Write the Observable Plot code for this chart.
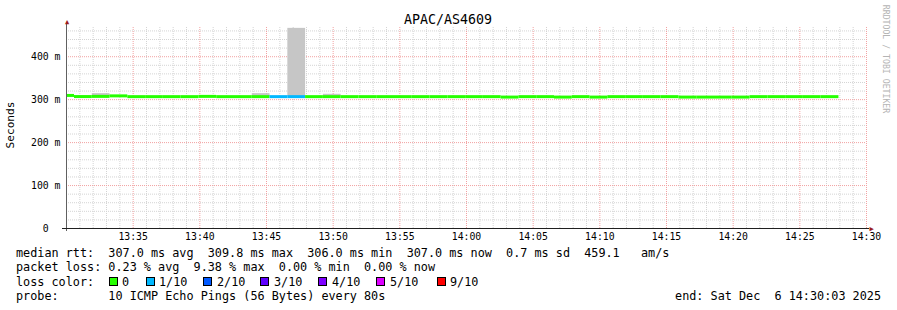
<!DOCTYPE html>
<html>
<head>
<meta charset="utf-8">
<script src="https://cdn.jsdelivr.net/npm/d3@7"></script>
<script src="https://cdn.jsdelivr.net/npm/@observablehq/plot@0.6"></script>
<style>
  html, body { margin: 0; padding: 0; background: #fff; }
  #wrap { position: relative; width: 897px; height: 310px; overflow: hidden; background: #fff;
          font-family: "DejaVu Sans Mono", monospace; color: #000; }
  #wrap svg { position: absolute; left: 0; top: 0; }
  .t { position: absolute; white-space: pre; line-height: 1; }
  .leg { font-size: 11.8px; }
  .box { position: absolute; width: 9px; height: 9px; box-sizing: border-box; border: 1px solid #000; }
</style>
</head>
<body>
<div id="wrap"></div>
<script>
// ---------------- data ----------------
const day = "2025-12-06";
const titleText = "APAC/AS4609";
const yAxisLabel = "Seconds";
const creditText = "RRDTOOL / TOBI OETIKER";

// sample boundaries (80 s step); segment i spans sampleTimes[i] .. sampleTimes[i+1]
const sampleTimes = [
  "13:29:16","13:30:36","13:31:56","13:33:16","13:34:36","13:35:56","13:37:16","13:38:36","13:39:56","13:41:16",
  "13:42:36","13:43:56","13:45:16","13:46:36","13:47:56","13:49:16","13:50:36","13:51:56","13:53:16","13:54:36",
  "13:55:56","13:57:16","13:58:36","13:59:56","14:01:16","14:02:36","14:03:56","14:05:16","14:06:36","14:07:56",
  "14:09:16","14:10:36","14:11:56","14:13:16","14:14:36","14:15:56","14:17:16","14:18:36","14:19:56","14:21:16",
  "14:22:36","14:23:56","14:25:16","14:26:36","14:27:56"
];
// median rtt per sample (ms)
const medianMs = [
  309.8, 307.2, 307.6, 308.8, 307.0, 307.0, 307.0, 307.0, 307.6, 307.0,
  307.0, 307.0, 307.0, 307.0, 307.0, 307.0, 307.0, 307.0, 307.0, 307.0,
  307.0, 307.0, 307.0, 307.0, 307.0, 306.0, 307.0, 307.0, 306.0, 307.0,
  306.0, 307.0, 307.0, 307.0, 307.0, 306.0, 306.0, 306.0, 306.0, 307.0,
  307.0, 307.0, 307.0, 307.0
];
// highest ping of each sample where the smoke is visible (ms)
const smokeMaxMs = [
  311.5, null, 314.0, null, null, null, null, null, null, null,
  null, 314.0, null, 466.0, null, 312.5, null, null, null, null,
  null, null, null, null, null, null, null, null, null, null,
  null, null, null, null, null, null, null, null, null, null,
  null, null, null, null
];
// lost pings out of 10 per sample
const lossCount = [
  0,0,0,0,0,0,0,0,0,0,
  0,0,1,1,0,0,0,0,0,0,
  0,0,0,0,0,0,0,0,0,0,
  0,0,0,0,0,0,0,0,0,0,
  0,0,0,0
];
const lossLegendLabels = ["0","1/10","2/10","3/10","4/10","5/10","9/10"];
const lossLegendColors = ["#26ff00","#00b8ff","#0059ff","#5e00ff","#7e00ff","#dd00ff","#ff0000"];
const lossLegendCounts = [0,1,2,3,4,5,9];

const xTickLabels = ["13:35","13:40","13:45","13:50","13:55","14:00","14:05","14:10","14:15","14:20","14:25","14:30"];
const xDomainLabels = ["13:30:00","14:30:00"];
const yTickValues = [0, 100, 200, 300, 400];
const yTickLabels = ["0\u00a0\u00a0", "100 m", "200 m", "300 m", "400 m"];
const yMax = 468;

const statLines = [
  "median rtt:  307.0 ms avg  309.8 ms max  306.0 ms min  307.0 ms now  0.7 ms sd  459.1   am/s",
  "packet loss: 0.23 % avg  9.38 % max  0.00 % min  0.00 % now",
  "loss color:",
  "probe:       10 ICMP Echo Pings (56 Bytes) every 80s"
];
const endText = "end: Sat Dec  6 14:30:03 2025";

// ---------------- build ----------------
const T = s => new Date(`${day}T${s.length === 5 ? s + ":00" : s}Z`);
const xStart = T(xDomainLabels[0]), xEnd = T(xDomainLabels[1]);
const lossColorOf = n => lossLegendColors[lossLegendCounts.indexOf(n)] ?? "#ff0000";

const samples = medianMs.map((m, i) => ({
  start: T(sampleTimes[i]), end: T(sampleTimes[i + 1]),
  median: m, smokeMax: smokeMaxMs[i], loss: lossCount[i]
}));
const smoke = samples.filter(d => d.smokeMax != null);

const tickDates = xTickLabels.map(T);
const minuteLines = d3.utcMinute.range(xStart, xEnd).filter(d => d.getUTCMinutes() % 5 !== 0);
const minorY = d3.range(20, yMax, 20).filter(v => v % 100 !== 0);
const majorY = yTickValues.filter(v => v > 0);
const yLabel = new Map(yTickValues.map((v, i) => [v, yTickLabels[i]]));

const minorGrid = "#d4d4d4", majorGrid = "#f2a2a2";

const chart = Plot.plot({
  width: 897, height: 250,
  marginLeft: 66, marginRight: 31, marginTop: 27, marginBottom: 22,
  style: { fontFamily: "DejaVu Sans Mono, monospace", fontSize: "9.8px", background: "transparent", color: "#000", overflow: "visible" },
  x: { type: "utc", domain: [xStart, xEnd], clamp: true, ticks: tickDates, tickFormat: d3.utcFormat("%H:%M"), tickSize: 0, tickPadding: 5, label: null },
  y: { domain: [0, yMax], ticks: yTickValues, tickFormat: d => yLabel.get(d), tickSize: 0, tickPadding: 6, label: null },
  color: { type: "identity" },
  marks: [
    Plot.ruleX(minuteLines, { stroke: minorGrid, strokeDasharray: "1,1" }),
    Plot.ruleY(minorY, { stroke: minorGrid, strokeDasharray: "1,1" }),
    Plot.ruleX(tickDates, { stroke: majorGrid, strokeDasharray: "1,1" }),
    Plot.ruleY(majorY, { stroke: majorGrid, strokeDasharray: "1,1" }),
    Plot.rect(smoke, { x1: "start", x2: "end", y1: "median", y2: "smokeMax", fill: "#c6c6c6" }),
    Plot.ruleY(samples, { x1: "start", x2: "end", y: "median", stroke: d => lossColorOf(d.loss), strokeWidth: 3, strokeLinecap: "butt" }),
    Plot.ruleX([xStart], { stroke: "#606060", insetTop: -4, insetBottom: -3 }),
    Plot.ruleY([0], { stroke: "#202020", insetLeft: -4, insetRight: -3 }),
    Plot.text(["\u25B2"], { frameAnchor: "top-left", text: d => d, dx: 0.5, dy: -6, fill: "#9b1c1c", fontSize: 7, textAnchor: "middle", lineAnchor: "middle" }),
    Plot.text(["\u25B6"], { frameAnchor: "bottom-right", text: d => d, dx: 5, dy: 0.5, fill: "#9b1c1c", fontSize: 7, textAnchor: "middle", lineAnchor: "middle" })
  ]
});

const wrap = document.getElementById("wrap");
wrap.appendChild(chart);

function addText(txt, css, cls = "t") {
  const d = document.createElement("div");
  d.className = cls;
  d.textContent = txt;
  Object.assign(d.style, css);
  wrap.appendChild(d);
  return d;
}
// title
addText(titleText, { left: "448px", top: "12.6px", fontSize: "13.3px", transform: "translateX(-50%)" });
// y-axis label
addText(yAxisLabel, { left: "11px", top: "125px", fontSize: "11.1px", transform: "translate(-50%,-50%) rotate(-90deg)" });
// credit
addText(creditText, { left: "886px", top: "58.5px", fontSize: "8.2px", color: "#b4b4b4", transform: "translate(-50%,-50%) rotate(90deg)" });

// stats / legend lines
const baseTops = [247.5, 262, 276.5, 291];
statLines.forEach((s, i) => addText(s, { left: "16px", top: baseTops[i] + "px" }, "t leg"));
addText(endText, { right: "16px", top: baseTops[3] + "px" }, "t leg");

const boxLefts = [109, 146, 203, 260, 318, 376, 437];
const labelLefts = [122, 159, 217, 274, 332, 390, 450];
lossLegendLabels.forEach((lab, i) => {
  const b = document.createElement("div");
  b.className = "box";
  Object.assign(b.style, { left: boxLefts[i] + "px", top: "277px", background: lossLegendColors[i] });
  wrap.appendChild(b);
  addText(lab, { left: labelLefts[i] + "px", top: baseTops[2] + "px" }, "t leg");
});
</script>
</body>
</html>
